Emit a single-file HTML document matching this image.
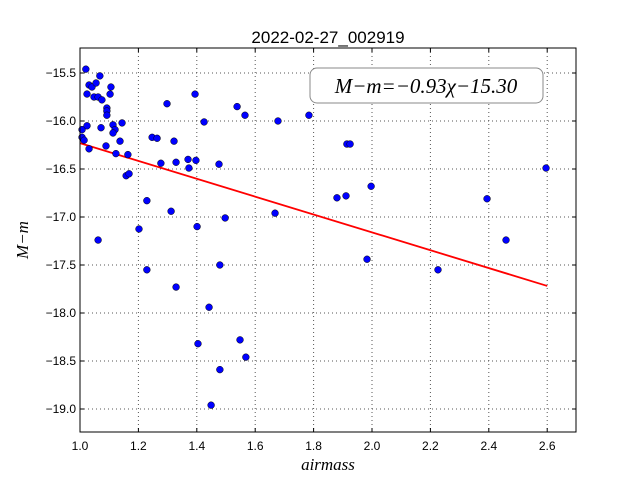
<!DOCTYPE html>
<html><head><meta charset="utf-8"><style>
body{margin:0;background:#fff;}
svg{display:block;font-family:"Liberation Sans",sans-serif;}
</style></head><body>
<svg id="chart" width="640" height="480"></svg>
<script>
const airmass=[1.02,1.068,1.031,1.041,1.055,1.106,1.024,1.048,1.062,1.075,1.103,1.092,1.092,1.092,1.298,1.007,1.024,1.072,1.113,1.144,1.12,1.113,1.007,1.014,1.031,1.089,1.137,1.123,1.164,1.247,1.264,1.322,1.277,1.329,1.158,1.168,1.394,1.538,1.565,1.784,1.425,1.678,1.37,1.397,1.373,1.476,1.229,1.312,1.497,1.668,1.202,1.401,1.062,1.229,1.479,1.329,1.442,1.404,1.548,1.568,1.479,1.449,1.88,1.914,1.925,1.911,1.997,1.983,2.226,2.394,2.459,2.596];
const mag=[-15.46,-15.53,-15.625,-15.646,-15.604,-15.646,-15.719,-15.75,-15.75,-15.78,-15.72,-15.865,-15.896,-15.94,-15.82,-16.09,-16.05,-16.07,-16.04,-16.02,-16.09,-16.125,-16.17,-16.2,-16.29,-16.26,-16.21,-16.34,-16.35,-16.17,-16.18,-16.21,-16.44,-16.43,-16.57,-16.55,-15.72,-15.85,-15.94,-15.94,-16.01,-16.0,-16.4,-16.41,-16.49,-16.45,-16.83,-16.94,-17.01,-16.96,-17.125,-17.1,-17.24,-17.55,-17.5,-17.73,-17.94,-18.32,-18.28,-18.46,-18.59,-18.96,-16.8,-16.24,-16.24,-16.78,-16.68,-17.44,-17.55,-16.81,-17.24,-16.49];
const xTicks=[1.0,1.2,1.4,1.6,1.8,2.0,2.2,2.4,2.6];
const yTicks=[-15.5,-16.0,-16.5,-17.0,-17.5,-18.0,-18.5,-19.0];
const fitSlope=[-0.93];
const fitIntercept=[-15.30];
const fitRange=[1.0,2.6];
const NS="http://www.w3.org/2000/svg";
const svg=document.getElementById('chart');
const L=80,R=576,T=48,B=432;
const X=v=>L+(v-1.0)*292;
const Y=v=>73+(-15.5-v)*96;
function mk(t,a,p){const e=document.createElementNS(NS,t);for(const k in a)e.setAttribute(k,a[k]);(p||svg).appendChild(e);return e;}
const g=mk('g',{});


xTicks.forEach(v=>{
 const l=mk('line',{x1:X(v),x2:X(v),y1:T,y2:B,stroke:'#555','stroke-dasharray':'1,3','stroke-width':1},g);
 
 
 mk('line',{x1:X(v),x2:X(v),y1:B,y2:B-4,stroke:'#000'});
 mk('line',{x1:X(v),x2:X(v),y1:T,y2:T+4,stroke:'#000'});
 const t=mk('text',{x:X(v),y:B+18,'text-anchor':'middle','font-size':12});
 t.textContent=v.toFixed(1);
 
 
});
yTicks.forEach(v=>{
 const l=mk('line',{x1:L,x2:R,y1:Y(v),y2:Y(v),stroke:'#555','stroke-dasharray':'1,3','stroke-width':1},g);
 
 
 mk('line',{x1:L,x2:L+4,y1:Y(v),y2:Y(v),stroke:'#000'});
 mk('line',{x1:R,x2:R-4,y1:Y(v),y2:Y(v),stroke:'#000'});
 const t=mk('text',{x:L-4,y:Y(v)+4,'text-anchor':'end','font-size':12});
 t.textContent='\u2212'+Math.abs(v).toFixed(1);
 
 
});
const fit=mk('line',{x1:X(fitRange[0]),y1:Y(fitSlope[0]*fitRange[0]+fitIntercept[0]),x2:X(fitRange[1]),y2:Y(fitSlope[0]*fitRange[1]+fitIntercept[0]),stroke:'#f00','stroke-width':1.8});


airmass.forEach((v,i)=>{
 const c=mk('circle',{cx:X(v),cy:Y(mag[i]),r:3.4,fill:'#0000ff',stroke:'#000','stroke-width':0.5});
 
 
});
const fr=mk('rect',{x:L,y:T,width:R-L,height:B-T,fill:'none',stroke:'#000','stroke-width':1});


const bx=mk('rect',{x:310,y:68,width:233,height:35,rx:7,fill:'#fff',stroke:'#888','stroke-width':1});


const eq=mk('text',{x:426,y:93,'text-anchor':'middle','font-size':21,'font-family':'Liberation Serif,serif','font-style':'italic'});
eq.textContent='M\u2212m=\u22120.93\u03C7\u221215.30';


const ti=mk('text',{x:328,y:43,'text-anchor':'middle','font-size':17});
ti.textContent='2022-02-27_002919';


const xl=mk('text',{x:328,y:470,'text-anchor':'middle','font-size':17,'font-family':'Liberation Serif,serif','font-style':'italic'});
xl.textContent='airmass';


const yl=mk('text',{x:0,y:0,'text-anchor':'middle','font-size':17,'font-family':'Liberation Serif,serif','font-style':'italic',transform:'translate(28,240) rotate(-90)'});
yl.textContent='M\u2212m';


</script>
</body></html>
